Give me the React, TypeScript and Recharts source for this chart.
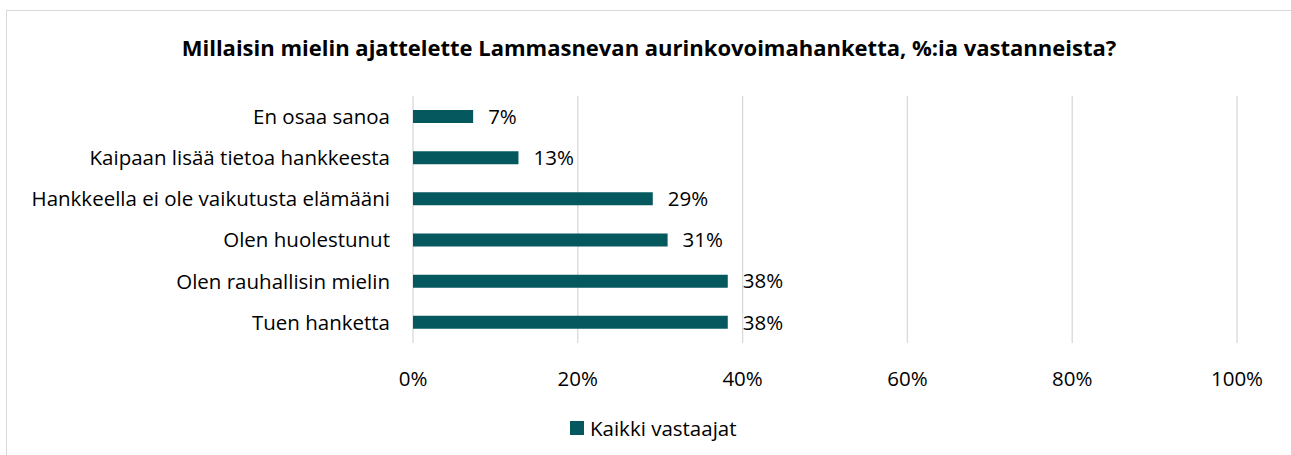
import { BarChart, Bar, XAxis, YAxis, CartesianGrid, LabelList } from "recharts";

const categories = [
  "En osaa sanoa",
  "Kaipaan lisää tietoa hankkeesta",
  "Hankkeella ei ole vaikutusta elämääni",
  "Olen huolestunut",
  "Olen rauhallisin mielin",
  "Tuen hanketta",
];
const kaikkiVastaajat = [7.3, 12.8, 29.1, 30.9, 38.2, 38.2];
const xTicks = [0, 20, 40, 60, 80, 100];

const title = "Millaisin mielin ajattelette Lammasnevan aurinkovoimahanketta, %:ia vastanneista?";
const seriesName = "Kaikki vastaajat";

const BAR_COLOR = "#05585E";
const FONT = "'Open Sans', Lato, sans-serif";
const FS = 20.5;

const data = categories.map((name, i) => ({ name, value: kaikkiVastaajat[i] }));

export default function App() {
  return (
    <div
      style={{
        position: "absolute",
        left: 0,
        top: 0,
        width: 1291,
        height: 455,
        overflow: "hidden",
        background: "#fff",
        fontFamily: FONT,
      }}
    >
      {/* chart frame, runs off the right and bottom edges */}
      <div
        style={{
          position: "absolute",
          left: 6,
          top: 10,
          width: 1320,
          height: 480,
          border: "1px solid #D9D9D9",
          boxSizing: "border-box",
        }}
      />
      <div
        style={{
          position: "absolute",
          left: 0,
          width: 1298,
          top: 32,
          textAlign: "center",
          fontWeight: 700,
          fontSize: 22,
          color: "#000",
        }}
      >
        {title}
      </div>

      <div style={{ position: "absolute", left: 0, top: 0 }}>
        <BarChart
          width={1291}
          height={455}
          data={data}
          layout="vertical"
          margin={{ top: 96, right: 54, bottom: 72, left: 0 }}
          barSize={13}
        >
          <CartesianGrid horizontal={false} stroke="#D9D9D9" strokeWidth={1.3} />
          <XAxis
            type="number"
            domain={[0, 100]}
            ticks={xTicks}
            tickFormatter={(v) => `${v}%`}
            axisLine={false}
            tickLine={false}
            tickMargin={22}
            tick={{ fill: "#000", fontSize: FS, fontFamily: FONT }}
            height={40}
          />
          <YAxis
            type="category"
            dataKey="name"
            width={413}
            axisLine={false}
            tickLine={false}
            tickMargin={17}
            tick={{ fill: "#000", fontSize: FS, fontFamily: FONT }}
          />
          <Bar dataKey="value" fill={BAR_COLOR} isAnimationActive={false}>
            <LabelList
              dataKey="value"
              position="right"
              offset={15}
              formatter={(v: number) => `${Math.round(v)}%`}
              style={{ fill: "#000", fontSize: FS, fontFamily: FONT }}
            />
          </Bar>
        </BarChart>
      </div>

      {/* legend */}
      <div
        style={{
          position: "absolute",
          left: 570,
          top: 414,
          display: "flex",
          alignItems: "center",
          fontSize: FS,
          color: "#000",
        }}
      >
        <span style={{ width: 14, height: 14, background: BAR_COLOR, marginRight: 6, display: "inline-block" }} />
        <span>{seriesName}</span>
      </div>
    </div>
  );
}
